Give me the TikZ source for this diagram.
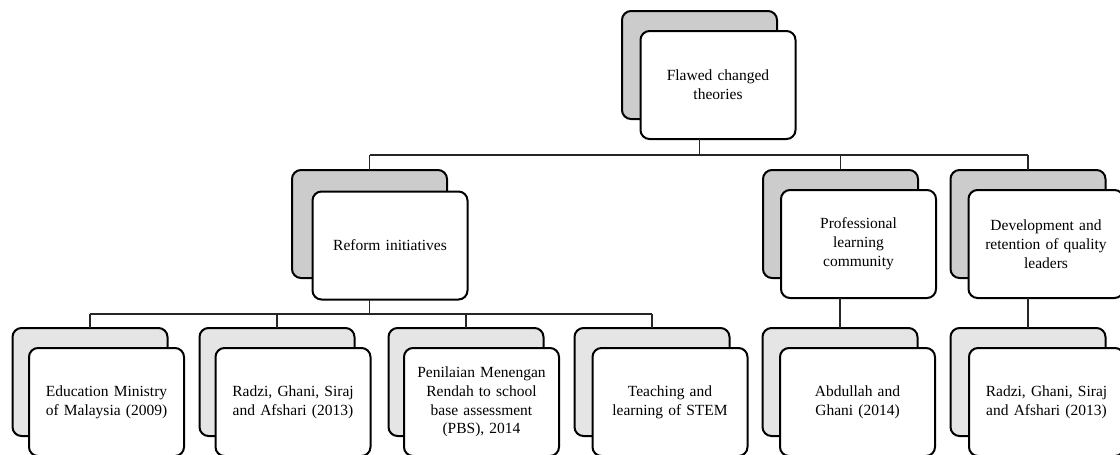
\documentclass[tikz,border=0pt]{standalone}
\usepackage{fontspec}
\setmainfont{Liberation Serif}
\definecolor{backdark}{HTML}{CCCCCC}
\definecolor{backlight}{HTML}{E5E5E5}
\tikzset{
  boxbase/.style={draw=black, line width=2pt, rounded corners=9pt,
    minimum width=155pt, minimum height=108pt, inner sep=0pt, outer sep=0pt},
  backhi/.style={boxbase, fill=backdark},
  backlo/.style={boxbase, fill=backlight},
  frontbox/.style={boxbase, fill=white, text=black, text width=148pt, align=center,
    font=\fontsize{15.5}{18.8}\selectfont},
  conn/.style={draw=black!85, line width=1.2pt}
}
\begin{document}
\begin{tikzpicture}[x=1pt, y=-1pt]
\useasboundingbox (0,0) rectangle (1120,455);
\clip (0,0) rectangle (1120,455);
% level 0
\node[backhi] (tb) at (699.5,65) {};
\node[frontbox] (tf) at (718,85) {Flawed changed\\theories};
% level 1
\node[backhi] (rb) at (369.5,224) {};
\node[frontbox] (rf) at (390,245.5) {Reform initiatives};
\node[backhi] (pb) at (840.5,224) {};
\node[frontbox] (pf) at (858.5,244) {Professional\\learning\\community};
\node[backhi] (db) at (1028,224) {};
\node[frontbox] (df) at (1046,244) {Development and\\retention of quality\\leaders};
% level 2
\node[backlo] (b1b) at (90,382) {};
\node[frontbox] (b1f) at (106.5,402) {Education Ministry\\of Malaysia (2009)};
\node[backlo] (b2b) at (277,382) {};
\node[frontbox] (b2f) at (293,402) {Radzi, Ghani, Siraj\\and Afshari (2013)};
\node[backlo] (b3b) at (466,382) {};
\node[frontbox] (b3f) at (481.5,402) {Penilaian Menengan\\Rendah to school\\base assessment\\(PBS), 2014};
\node[backlo] (b4b) at (652,382) {};
\node[frontbox] (b4f) at (670,402) {Teaching and\\learning of STEM};
\node[backlo] (b5b) at (840,382) {};
\node[frontbox] (b5f) at (857.5,402) {Abdullah and\\Ghani (2014)};
\node[backlo] (b6b) at (1028,382) {};
\node[frontbox] (b6f) at (1046.5,402) {Radzi, Ghani, Siraj\\and Afshari (2013)};
% buses
\coordinate (bus1) at (0,155);
\coordinate (bus2) at (0,314);
% connectors level 0 -> 1
\draw[conn] (tf.south -| tb.center) -- (tb.center |- bus1);
\draw[conn] (rb.center |- bus1) -- (db.center |- bus1);
\foreach \n in {rb,pb,db} \draw[conn] (\n.center |- bus1) -- (\n.north);
% connectors reform -> children
\draw[conn] (rf.south -| rb.center) -- (rb.center |- bus2);
\draw[conn] (b1b.center |- bus2) -- (b4b.center |- bus2);
\foreach \n in {b1b,b2b,b3b,b4b} \draw[conn] (\n.center |- bus2) -- (\n.north);
% connectors professional / development -> children
\draw[conn] (pf.south -| b5b.center) -- (b5b.north);
\draw[conn] (df.south -| b6b.center) -- (b6b.north);
\end{tikzpicture}
\end{document}
